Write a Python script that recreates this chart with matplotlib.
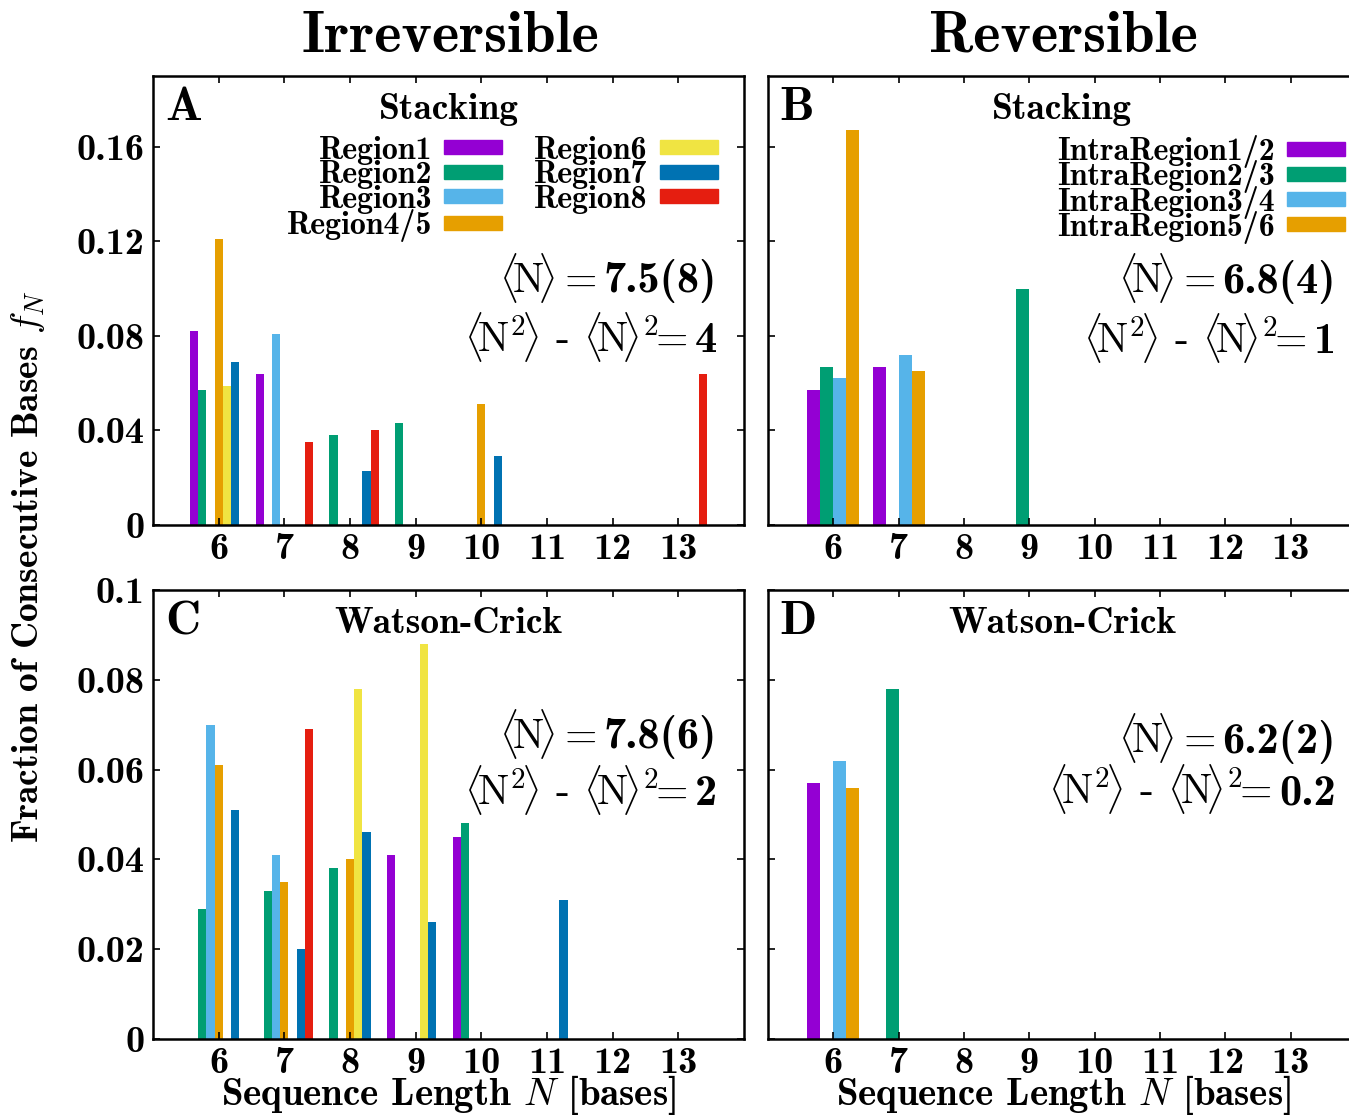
import matplotlib
matplotlib.use("Agg")
import matplotlib.pyplot as plt
from matplotlib.patches import Patch
import numpy as np

plt.rcParams['font.family'] = 'cmb10'
plt.rcParams['mathtext.fontset'] = 'cm'

# ---- data ----
lengths = [6, 7, 8, 9, 10, 11, 12, 13]

irr_labels = ["Region1", "Region2", "Region3", "Region4/5", "Region6", "Region7", "Region8"]
irr_colors = ["#9400d3", "#009e73", "#56b4e9", "#e69f00", "#f0e442", "#0072b2", "#e51e10"]

# stacking, irreversible (panel A)
irr_stack_r1 = [0.082, 0.064, 0, 0, 0, 0, 0, 0]
irr_stack_r2 = [0.057, 0, 0.038, 0.043, 0, 0, 0, 0]
irr_stack_r3 = [0, 0.081, 0, 0, 0, 0, 0, 0]
irr_stack_r45 = [0.121, 0, 0, 0, 0.051, 0, 0, 0]
irr_stack_r6 = [0.059, 0, 0, 0, 0, 0, 0, 0]
irr_stack_r7 = [0.069, 0, 0.023, 0, 0.029, 0, 0, 0]
irr_stack_r8 = [0, 0.035, 0.040, 0, 0, 0, 0, 0.064]

# watson-crick, irreversible (panel C)
irr_wc_r1 = [0, 0, 0, 0.041, 0.045, 0, 0, 0]
irr_wc_r2 = [0.029, 0.033, 0.038, 0, 0.048, 0, 0, 0]
irr_wc_r3 = [0.070, 0.041, 0, 0, 0, 0, 0, 0]
irr_wc_r45 = [0.061, 0.035, 0.040, 0, 0, 0, 0, 0]
irr_wc_r6 = [0, 0, 0.078, 0.088, 0, 0, 0, 0]
irr_wc_r7 = [0.051, 0.020, 0.046, 0.026, 0, 0.031, 0, 0]
irr_wc_r8 = [0, 0.069, 0, 0, 0, 0, 0, 0]

rev_labels = ["IntraRegion1/2", "IntraRegion2/3", "IntraRegion3/4", "IntraRegion5/6"]
rev_colors = ["#9400d3", "#009e73", "#56b4e9", "#e69f00"]

# stacking, reversible (panel B)
rev_stack_12 = [0.057, 0.067, 0, 0, 0, 0, 0, 0]
rev_stack_23 = [0.067, 0, 0, 0.100, 0, 0, 0, 0]
rev_stack_34 = [0.062, 0.072, 0, 0, 0, 0, 0, 0]
rev_stack_56 = [0.167, 0.065, 0, 0, 0, 0, 0, 0]

# watson-crick, reversible (panel D)
rev_wc_12 = [0.057, 0, 0, 0, 0, 0, 0, 0]
rev_wc_23 = [0, 0.078, 0, 0, 0, 0, 0, 0]
rev_wc_34 = [0.062, 0, 0, 0, 0, 0, 0, 0]
rev_wc_56 = [0.056, 0, 0, 0, 0, 0, 0, 0]

stack_yticks = [0, 0.04, 0.08, 0.12, 0.16]
stack_ylabels = ["0", "0.04", "0.08", "0.12", "0.16"]
wc_yticks = [0, 0.02, 0.04, 0.06, 0.08, 0.1]
wc_ylabels = ["0", "0.02", "0.04", "0.06", "0.08", "0.1"]

# mean length and variance shown in each panel
mean_n = {"A": "7.5(8)", "B": "6.8(4)", "C": "7.8(6)", "D": "6.2(2)"}
var_n = {"A": "4", "B": "1", "C": "2", "D": "0.2"}

W, H = 1349, 1116
fig = plt.figure(figsize=(W / 100, H / 100), dpi=100)


def px_axes(l, r, t, b):
    return fig.add_axes([l / W, 1 - b / H, (r - l) / W, (b - t) / H])


def style(ax, ymax, yticks, ylabels, show_y):
    ax.set_xlim(5, 14)
    ax.set_ylim(0, ymax)
    ax.set_xticks(lengths)
    ax.set_xticklabels([str(n) for n in lengths])
    ax.set_yticks(yticks)
    ax.set_yticklabels(ylabels if show_y else [])
    ax.tick_params(direction="in", length=5, width=1.2, top=True, right=True,
                   labelsize=27.5, pad=6)
    for s in ax.spines.values():
        s.set_linewidth(1.8)


def grouped(ax, series, colors, width):
    x = np.array(lengths)
    k = len(series)
    for i, (vals, c) in enumerate(zip(series, colors)):
        off = (i - (k - 1) / 2) * width
        ax.bar(x + off, vals, width=width, color=c, linewidth=0)


axA = px_axes(153, 744, 76, 525)
axB = px_axes(768, 1356, 76, 525)
axC = px_axes(153, 744, 590, 1039)
axD = px_axes(768, 1356, 590, 1039)

grouped(axA, [irr_stack_r1, irr_stack_r2, irr_stack_r3, irr_stack_r45,
              irr_stack_r6, irr_stack_r7, irr_stack_r8], irr_colors, 0.125)
grouped(axC, [irr_wc_r1, irr_wc_r2, irr_wc_r3, irr_wc_r45,
              irr_wc_r6, irr_wc_r7, irr_wc_r8], irr_colors, 0.125)
grouped(axB, [rev_stack_12, rev_stack_23, rev_stack_34, rev_stack_56], rev_colors, 0.2)
grouped(axD, [rev_wc_12, rev_wc_23, rev_wc_34, rev_wc_56], rev_colors, 0.2)

style(axA, 0.19, stack_yticks, stack_ylabels, True)
style(axB, 0.19, stack_yticks, stack_ylabels, False)
style(axC, 0.1, wc_yticks, wc_ylabels, True)
style(axD, 0.1, wc_yticks, wc_ylabels, False)

# panel letters, subtitles
for ax, letter, sub in [(axA, "A", "Stacking"), (axB, "B", "Stacking"),
                        (axC, "C", "Watson-Crick"), (axD, "D", "Watson-Crick")]:
    ax.text(0.02, 0.902, letter, transform=ax.transAxes, fontsize=35,
            ha="left", va="baseline")
    ax.text(0.5, 0.905, sub, transform=ax.transAxes, fontsize=27,
            ha="center", va="baseline")

# stats: bold number on the right, math prefix placed left of it
stat_pos = {"A": (axA, 0.954, 0.518, 0.386), "B": (axB, 0.966, 0.516, 0.383),
            "C": (axC, 0.954, 0.647, 0.521), "D": (axD, 0.966, 0.638, 0.523)}
num_texts = []
for key, (ax, xr, y1, y2) in stat_pos.items():
    t1 = ax.text(xr, y1, mean_n[key], transform=ax.transAxes, fontsize=32,
                 ha="right", va="baseline")
    t2 = ax.text(xr, y2, var_n[key], transform=ax.transAxes, fontsize=32,
                 ha="right", va="baseline")
    num_texts.append((ax, t1, y1, r"$\langle\!\mathrm{N}\!\rangle=$"))
    num_texts.append((ax, t2, y2,
                      r"$\langle\!\mathrm{N}^2\!\rangle$ - "
                      r"$\langle\!\mathrm{N}\!\rangle^2\!\!=$"))

# legends
leg_kw = dict(frameon=False, markerfirst=False, loc="upper right",
              prop={"family": "cmb10", "size": 23}, handlelength=1.82,
              handleheight=0.31, handletextpad=0.38,
              borderaxespad=0, borderpad=0)
axA.legend([Patch(color=c) for c in irr_colors], irr_labels, ncol=2,
           columnspacing=1.0, labelspacing=-0.14,
           bbox_to_anchor=(0.956, 0.867), **leg_kw)
axB.legend([Patch(color=c) for c in rev_colors], rev_labels, ncol=1,
           labelspacing=-0.245, bbox_to_anchor=(0.981, 0.868), **leg_kw)

# column titles and axis labels
fig.text(450 / W, 1 - 52 / H, "Irreversible", fontsize=42, ha="center", va="baseline")
fig.text(1063 / W, 1 - 52 / H, "Reversible", fontsize=42, ha="center", va="baseline")
fig.text(28 / W, 1 - 566 / H, r"Fraction of Consecutive Bases $f_N$", fontsize=27,
         rotation=90, ha="center", va="center")
fig.text(448 / W, 1 - 1105 / H, r"Sequence Length $N$ [bases]", fontsize=28,
         ha="center", va="baseline")
fig.text(1063 / W, 1 - 1105 / H, r"Sequence Length $N$ [bases]", fontsize=28,
         ha="center", va="baseline")

fig.canvas.draw()
renderer = fig.canvas.get_renderer()
for ax, t, y, prefix in num_texts:
    bb = t.get_window_extent(renderer)
    xa = ax.transAxes.inverted().transform((bb.x0 - 7, 0))[0]
    ax.text(xa, y, prefix, transform=ax.transAxes, fontsize=30, ha="right",
            va="baseline", family="cmr10")

fig.savefig("out.png", dpi=100)
